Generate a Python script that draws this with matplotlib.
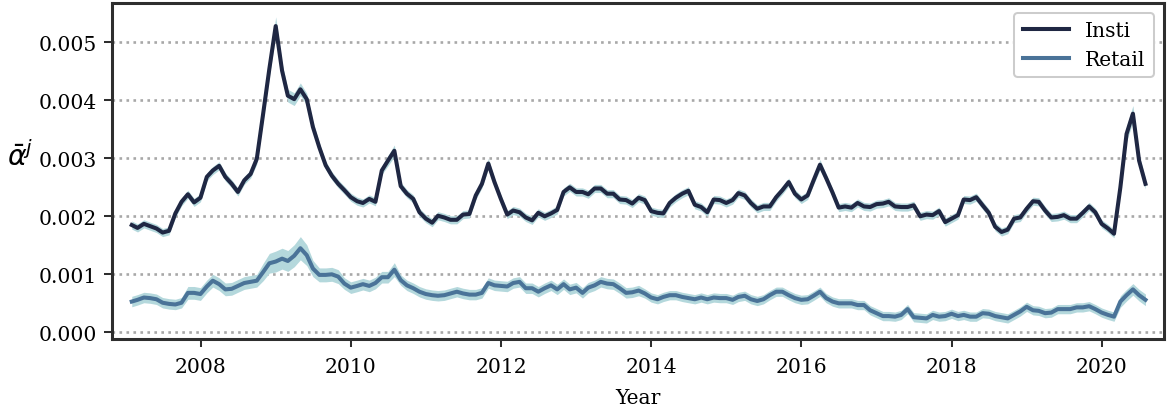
import pandas as pd
import matplotlib.pyplot as plt
import matplotlib.dates as mdates
from matplotlib.ticker import FormatStrFormatter

# monthly estimates, Jan 2007 - Jul 2020 (values in units of 1e-3)
fechas = pd.date_range('2007-01-31', periods=163, freq='ME')

insti = [
    1.85, 1.80, 1.87, 1.83, 1.79, 1.72, 1.75, 2.05, 2.25, 2.38, 2.24, 2.32,
    2.68, 2.79, 2.87, 2.68, 2.56, 2.42, 2.62, 2.73, 2.99, 3.77, 4.54, 5.28,
    4.51, 4.08, 4.02, 4.19, 4.02, 3.54, 3.19, 2.88, 2.70, 2.56, 2.45, 2.33,
    2.26, 2.23, 2.30, 2.25, 2.79, 2.96, 3.13, 2.52, 2.39, 2.30, 2.07, 1.96,
    1.89, 2.01, 1.98, 1.94, 1.94, 2.03, 2.04, 2.36, 2.56, 2.91, 2.59, 2.30,
    2.03, 2.10, 2.07, 1.98, 1.93, 2.06, 2.00, 2.05, 2.11, 2.42, 2.50, 2.42,
    2.42, 2.38, 2.48, 2.48, 2.39, 2.39, 2.29, 2.28, 2.22, 2.32, 2.28, 2.09,
    2.06, 2.05, 2.23, 2.32, 2.39, 2.44, 2.20, 2.16, 2.07, 2.29, 2.28, 2.23,
    2.28, 2.40, 2.36, 2.23, 2.13, 2.17, 2.17, 2.33, 2.45, 2.59, 2.39, 2.29,
    2.36, 2.62, 2.89, 2.66, 2.41, 2.15, 2.17, 2.15, 2.23, 2.17, 2.16, 2.21,
    2.22, 2.25, 2.17, 2.16, 2.16, 2.19, 2.00, 2.03, 2.02, 2.09, 1.90, 1.96,
    2.02, 2.29, 2.28, 2.33, 2.19, 2.06, 1.82, 1.73, 1.77, 1.96, 1.98, 2.13,
    2.26, 2.25, 2.10, 1.98, 1.99, 2.02, 1.96, 1.96, 2.06, 2.17, 2.07, 1.87,
    1.79, 1.70, 2.50, 3.42, 3.77, 2.96, 2.56,
]

retail = [
    0.53, 0.56, 0.60, 0.59, 0.57, 0.51, 0.49, 0.48, 0.51, 0.68, 0.68, 0.66,
    0.79, 0.89, 0.83, 0.74, 0.75, 0.80, 0.85, 0.87, 0.89, 1.04, 1.19, 1.22,
    1.27, 1.23, 1.32, 1.45, 1.33, 1.10, 0.99, 0.99, 1.00, 0.96, 0.84, 0.77,
    0.80, 0.83, 0.80, 0.85, 0.95, 0.95, 1.08, 0.90, 0.81, 0.76, 0.70, 0.66,
    0.64, 0.63, 0.64, 0.67, 0.70, 0.67, 0.65, 0.65, 0.68, 0.85, 0.81, 0.80,
    0.79, 0.85, 0.87, 0.76, 0.76, 0.70, 0.76, 0.81, 0.74, 0.83, 0.74, 0.77,
    0.68, 0.77, 0.81, 0.87, 0.84, 0.83, 0.76, 0.68, 0.69, 0.72, 0.67, 0.60,
    0.57, 0.61, 0.64, 0.64, 0.61, 0.59, 0.57, 0.60, 0.57, 0.60, 0.59, 0.59,
    0.56, 0.61, 0.63, 0.57, 0.54, 0.57, 0.64, 0.70, 0.70, 0.64, 0.59, 0.56,
    0.57, 0.63, 0.70, 0.59, 0.53, 0.50, 0.50, 0.50, 0.47, 0.47, 0.38, 0.33,
    0.28, 0.28, 0.27, 0.30, 0.40, 0.26, 0.25, 0.24, 0.30, 0.27, 0.28, 0.32,
    0.28, 0.30, 0.27, 0.27, 0.33, 0.32, 0.28, 0.26, 0.24, 0.30, 0.36, 0.44,
    0.38, 0.37, 0.33, 0.34, 0.40, 0.40, 0.40, 0.43, 0.43, 0.45, 0.40, 0.34,
    0.30, 0.27, 0.53, 0.64, 0.74, 0.64, 0.56,
]

# half-width of the confidence bands (same units)
insti_ci = ([0.07] * 20 + [0.09, 0.12, 0.13, 0.16, 0.13, 0.11, 0.11, 0.11, 0.10,
            0.09, 0.08] + [0.07] * 10 + [0.09, 0.10] + [0.07] * 14 + [0.09]
            + [0.07] * 52 + [0.09] + [0.07] * 47 + [0.10, 0.13, 0.14, 0.10, 0.09])
retail_ci = ([0.09] * 9 + [0.11] * 12 + [0.15, 0.17, 0.18, 0.18, 0.18, 0.19, 0.20,
             0.18, 0.14, 0.12, 0.12, 0.12, 0.12] + [0.10] * 8 + [0.12]
             + [0.09] * 39 + [0.08] * 76 + [0.10] * 5)

series = [('Insti', insti, insti_ci, '#1f2743'),
          ('Retail', retail, retail_ci, '#4a7398')]

plt.rcParams['font.family'] = 'DejaVu Serif'
plt.rcParams['mathtext.fontset'] = 'dejavusans'
fig = plt.figure(figsize=(8, 412 / 145.875), dpi=145.875)
ax = fig.add_axes([0.096, 0.1748, 0.9014, 0.8155])

for nombre, valores, ci, color in series:
    v = pd.Series(valores) * 1e-3
    e = pd.Series(ci) * 1e-3
    ax.fill_between(fechas, v - e, v + e, color='#b4d8dc', lw=0, zorder=2)
    ax.plot(fechas, v, color=color, lw=2, label=nombre, zorder=3)

ax.set_xlim(pd.Timestamp('2006-10-27'), pd.Timestamp('2020-10-29'))
ax.set_ylim(-0.000115, 0.005678)
ax.set_yticks([0, 0.001, 0.002, 0.003, 0.004, 0.005])
ax.yaxis.set_major_formatter(FormatStrFormatter('%.3f'))
ax.xaxis.set_major_locator(mdates.YearLocator(2))
ax.xaxis.set_major_formatter(mdates.DateFormatter('%Y'))

ax.grid(axis='y', linestyle=':', color='#a8a8a8', lw=1.3)
ax.set_axisbelow(True)
for s in ax.spines.values():
    s.set_color('#2e2e2e')
    s.set_linewidth(1.5)
ax.tick_params(labelsize=10, length=4, width=1, color='#2e2e2e')
ax.tick_params(axis='x', pad=5)

ax.set_xlabel('Year', fontsize=10, labelpad=6)
ax.set_ylabel(r'$\bar{\alpha}^j$', fontsize=14, rotation=0, labelpad=9)
ax.legend(loc='upper right', fontsize=10, edgecolor='#cccccc', framealpha=1,
          handlelength=2.3)

fig.savefig('out.png', dpi=145.875)
